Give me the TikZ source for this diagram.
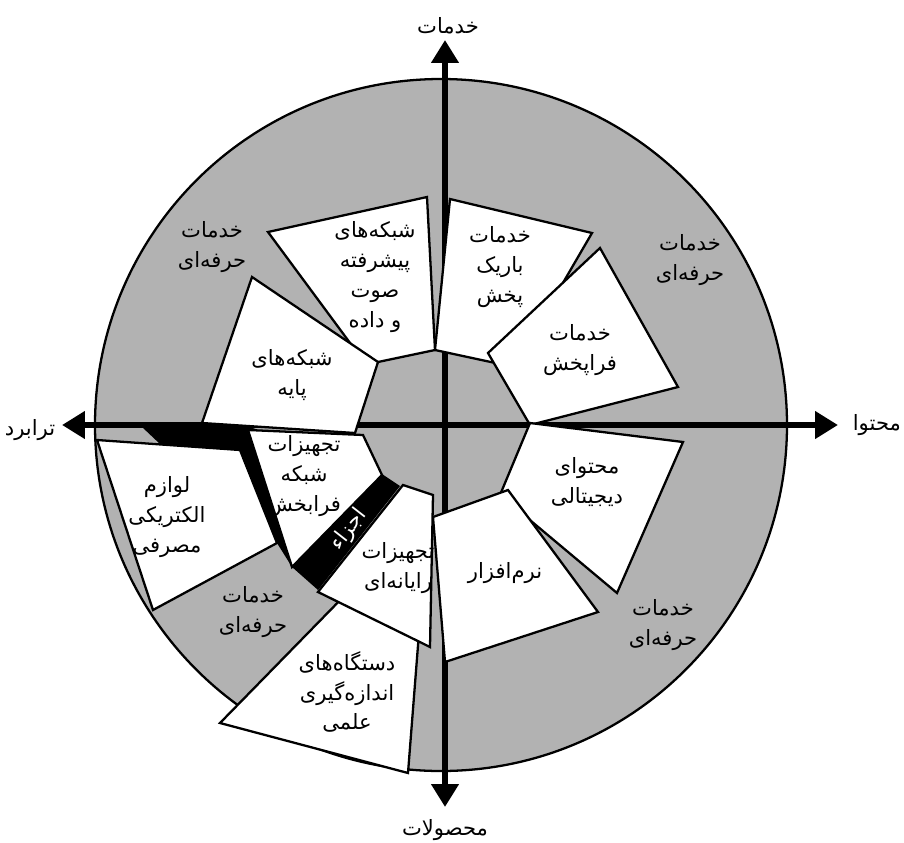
\documentclass[tikz,border=0pt]{standalone}
\usepackage{fontspec}
\newfontfamily\arabicfont[Script=Arabic]{DejaVu Sans}
\usetikzlibrary{arrows.meta}
\TeXXeTstate=1
\newcommand{\fa}[1]{\beginR #1\endR}
\definecolor{ringgray}{RGB}{178,178,178}

\begin{document}
\begin{tikzpicture}[
    x=0.02cm, y=-0.02cm,
    font={\fontsize{12}{17}\arabicfont},
    ring/.style    ={draw, line width=1.3pt, fill=ringgray},
    segment/.style ={draw, line width=1.3pt, fill=white},
    parts/.style   ={fill=black},
    axis/.style    ={line width=3.4pt,
                     {Triangle[length=13pt,width=15pt]}-{Triangle[length=13pt,width=15pt]}},
    txt/.style     ={align=center, inner sep=1pt}
]
\useasboundingbox (0,0) rectangle (904,843);

% =================== Ring ===================
\draw[ring] (441,425) circle [radius=346];

% =================== Components band (under the segments) ===================
\fill[parts] (142,427) -- (250,427) -- (382,474) -- (400,486) -- (318,590)
    -- (292,567) -- (277,543) -- (240,450) -- (160,444) -- cycle;

% =================== Axes ===================
\coordinate (west)  at (62,425);
\coordinate (east)  at (838,425);
\coordinate (north) at (445,40);
\coordinate (south) at (445,807);
\draw[axis] (west) -- (east);
\draw[axis] (south) -- (north);

% =================== Segments, top half ===================
\draw[segment] (268,232) -- (427,197) -- (435,350) -- (378,362) -- (370,370) -- cycle;
\draw[segment] (252,277) -- (378,362) -- (355,433) -- (202,423) -- cycle;
\draw[segment] (450,199) -- (592,233) -- (514,367) -- (435,350) -- cycle;
\draw[segment] (488,353) -- (600,248) -- (678,387) -- (530,425) -- cycle;

% =================== Segments, bottom half ===================
\draw[segment] (530,423) -- (683,442) -- (617,593) -- (500,495) -- cycle;
\draw[segment] (433,517) -- (508,490) -- (598,612) -- (445,662) -- cycle;
\draw[segment] (97,440) -- (240,450) -- (277,543) -- (153,610) -- cycle;
\draw[segment] (248,430) -- (363,435) -- (382,475) -- (292,567) -- cycle;
\draw[segment] (220,723) -- (350,590) -- (420,620) -- (408,773) -- cycle;
\draw[segment] (403,485) -- (433,495) -- (430,647) -- (318,592) -- cycle;

% =================== Axis labels ===================
\node (services)  at (448,26)  {\fa{خدمات}};
\node (products)  at (445,830) {\fa{محصولات}};
\node (transport) at (30,430)  {\fa{ترابرد}};
\node[anchor=east, inner sep=1pt] (content) at (903,425) {\fa{محتوا}};

% =================== Ring labels ===================
\node[txt] (proNW) at (212,247) {\fa{خدمات}\\\fa{حرفه‌ای}};
\node[txt] (proNE) at (690,260) {\fa{خدمات}\\\fa{حرفه‌ای}};
\node[txt] (proSW) at (253,612) {\fa{خدمات}\\\fa{حرفه‌ای}};
\node[txt] (proSE) at (663,625) {\fa{خدمات}\\\fa{حرفه‌ای}};

% =================== Segment labels ===================
\node[txt] (advnet)    at (375,277) {\fa{شبکه‌های}\\\fa{پیشرفته}\\\fa{صوت}\\\fa{و داده}};
\node[txt] (basenet)   at (292,375) {\fa{شبکه‌های}\\\fa{پایه}};
\node[txt] (narrow)    at (500,267) {\fa{خدمات}\\\fa{باریک}\\\fa{پخش}};
\node[txt] (broad)     at (580,350) {\fa{خدمات}\\\fa{فراپخش}};
\node[txt] (digital)   at (587,482) {\fa{محتوای}\\\fa{دیجیتالی}};
\node[txt] (software)  at (505,573) {\fa{نرم‌افزار}};
\node[txt] (netequip)  at (304,476) {\fa{تجهیزات}\\\fa{شبکه}\\\fa{فرابخش}};
\node[txt] (compequip) at (398,568) {\fa{تجهیزات}\\\fa{رایانه‌ای}};
\node[txt] (appliance) at (167,517) {\fa{لوازم}\\\fa{الکتریکی}\\\fa{مصرفی}};
\node[txt] (science)   at (347,692) {\fa{دستگاه‌های}\\\fa{اندازه‌گیری}\\\fa{علمی}};
\node[white, rotate=52, inner sep=0pt] (partslbl) at (349,530) {\fa{اجزاء}};

\end{tikzpicture}
\end{document}
